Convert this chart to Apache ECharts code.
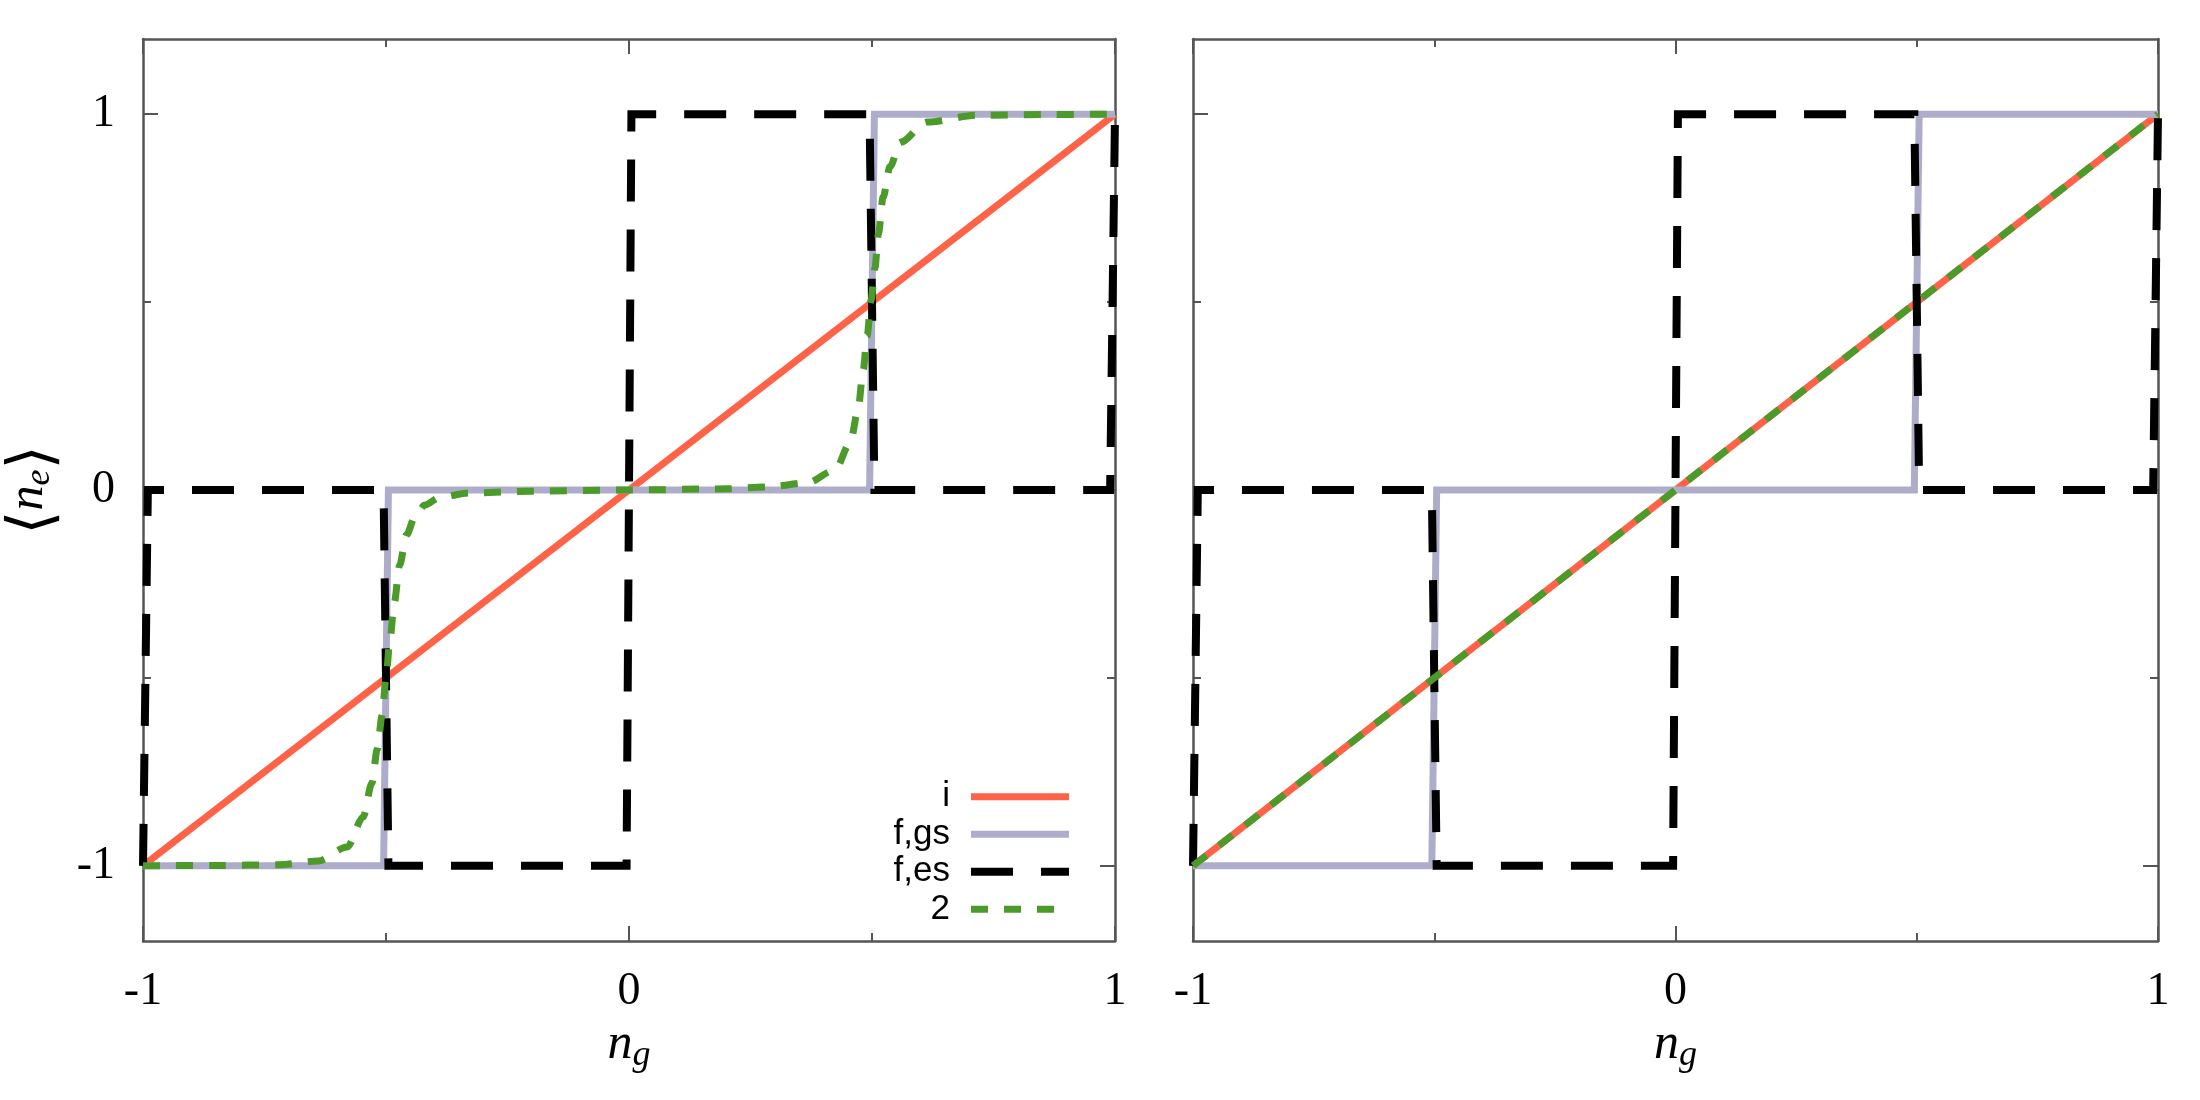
<!DOCTYPE html>
<html><head><meta charset="utf-8">
<script src="https://cdn.jsdelivr.net/npm/echarts@6/dist/echarts.min.js"></script>
<style>html,body{margin:0;padding:0;background:#fff}#c{width:2200px;height:1100px}</style>
</head><body><div id="c"></div>
<script>
// ---------- data ----------
const xTickValues = [-1, 0, 1];
const yTickLabels = [-1, 0, 1];
const yMinorTicks = [-0.5, 0.5];
const seriesNames = ['i', 'f,gs', 'f,es', '2'];

// left panel
const ngI = [-1, 1];
const neI = [-1, 1];
const ngGs = [-1, -0.505, -0.495, 0.495, 0.505, 1];
const neGs = [-1, -1, 0, 0, 1, 1];
const ngEs = [-1, -0.99, -0.505, -0.495, -0.005, 0.005, 0.495, 0.505, 0.99, 1];
const neEs = [-1, 0, 0, -1, -1, 1, 1, 0, 0, 1];
const ngTwoA = [-1, -0.85, -0.72, -0.64, -0.58, -0.547, -0.529, -0.518, -0.508, -0.5, -0.492, -0.483, -0.472, -0.458, -0.44, -0.42, -0.39, -0.33, -0.2, 0, 0.2, 0.284, 0.366, 0.424, 0.455, 0.471, 0.482, 0.49, 0.498, 0.506, 0.513, 0.523, 0.537, 0.558, 0.613, 0.716, 0.85, 1];
const neTwoA = [-1, -0.999, -0.997, -0.987, -0.95, -0.87, -0.78, -0.69, -0.6, -0.5, -0.4, -0.3, -0.2, -0.12, -0.07, -0.04, -0.02, -0.008, -0.003, 0, 0.003, 0.008, 0.019, 0.053, 0.125, 0.21, 0.32, 0.41, 0.505, 0.59, 0.68, 0.78, 0.86, 0.925, 0.979, 0.997, 0.999, 1];
// right panel
const ngTwoB = [-1, 1];
const neTwoB = [-1, 1];

// ---------- styling ----------
const AX = '#555555';
const SERIF = "'Liberation Serif','DejaVu Serif',serif";
const BRACKET = "'DejaVu Serif','DejaVu Sans',serif";
const SANS = "'Liberation Sans',Arial,sans-serif";
const styles = {
  'i':    {color: '#FF6347', width: 7, type: 'solid'},
  'f,gs': {color: '#ADADCB', width: 7, type: 'solid'},
  'f,es': {color: '#000000', width: 8, type: [42, 28]},
  '2':    {color: '#4C9A2A', width: 7, type: [17, 16]}
};
const pairs = (xs, ys) => xs.map((x, k) => [x, ys[k]]);

const grids = [
  {left: 143, top: 39, width: 972, height: 902},
  {left: 1193, top: 39, width: 965, height: 902}
];

const xAxes = [];
const yAxes = [];
grids.forEach((g, gi) => {
  ['bottom', 'top'].forEach(pos => {
    xAxes.push({
      type: 'value', gridIndex: gi, position: pos, min: -1, max: 1, interval: 1,
      axisLine: {show: true, onZero: false, lineStyle: {color: AX, width: 2.5}},
      axisTick: {show: true, inside: true, length: 15, lineStyle: {color: AX, width: 2}},
      minorTick: {show: true, splitNumber: 2, length: 8, lineStyle: {color: AX, width: 2}},
      splitLine: {show: false}, minorSplitLine: {show: false},
      axisLabel: {show: pos === 'bottom', customValues: xTickValues, margin: 28, fontFamily: SERIF, fontSize: 46, color: '#000'},
      name: pos === 'bottom' ? '{n|n}{g|g}' : '',
      nameLocation: 'middle', nameGap: 69,
      nameTextStyle: {rich: {
        n: {fontFamily: SERIF, fontStyle: 'italic', fontSize: 50, lineHeight: 50, verticalAlign: 'top', color: '#000'},
        g: {fontFamily: SERIF, fontStyle: 'italic', fontSize: 36, lineHeight: 36, padding: [18, 0, 0, 0], verticalAlign: 'top', color: '#000'}
      }}
    });
  });
  ['left', 'right'].forEach(pos => {
    const labelled = gi === 0 && pos === 'left';
    yAxes.push({
      type: 'value', gridIndex: gi, position: pos, min: -1.2, max: 1.2,
      axisLine: {show: true, onZero: false, lineStyle: {color: AX, width: 2.5}},
      axisTick: {show: true, inside: true, length: 15, customValues: yTickLabels, lineStyle: {color: AX, width: 2}},
      splitLine: {show: false},
      axisLabel: {show: labelled, customValues: yTickLabels, margin: 28, fontFamily: SERIF, fontSize: 46, color: '#000'},
      name: labelled ? '{b|\u27E8}{n|n}{e|e}{b|\u27E9}' : '',
      nameLocation: 'middle', nameGap: 89, nameRotate: 90,
      nameTextStyle: {rich: {
        b: {fontFamily: BRACKET, fontSize: 62, lineHeight: 50, verticalAlign: 'top', color: '#000'},
        n: {fontFamily: SERIF, fontStyle: 'italic', fontSize: 50, lineHeight: 50, verticalAlign: 'top', color: '#000'},
        e: {fontFamily: SERIF, fontStyle: 'italic', fontSize: 36, lineHeight: 36, padding: [18, 0, 0, 0], verticalAlign: 'top', color: '#000'}
      }}
    });
    yAxes.push({
      type: 'value', gridIndex: gi, position: pos, min: -1.2, max: 1.2,
      axisLine: {show: false, onZero: false},
      axisTick: {show: true, inside: true, length: 8, customValues: yMinorTicks, lineStyle: {color: AX, width: 2}},
      splitLine: {show: false},
      axisLabel: {show: false}
    });
  });
});

const panelData = [
  {'i': pairs(ngI, neI), 'f,gs': pairs(ngGs, neGs), 'f,es': pairs(ngEs, neEs), '2': pairs(ngTwoA, neTwoA)},
  {'i': pairs(ngI, neI), 'f,gs': pairs(ngGs, neGs), 'f,es': pairs(ngEs, neEs), '2': pairs(ngTwoB, neTwoB)}
];

const series = [];
panelData.forEach((pd, gi) => {
  seriesNames.forEach(name => {
    const st = styles[name];
    series.push({
      type: 'line', name: name, xAxisIndex: gi * 2, yAxisIndex: gi * 4,
      data: pd[name], showSymbol: false, symbol: 'none', clip: false,
      smooth: (name === '2' && gi === 0) ? 0.3 : false,
      smoothMonotone: 'x',
      lineStyle: {color: st.color, width: st.width, type: st.type, cap: 'butt', join: 'miter'},
      itemStyle: {color: st.color},
      emphasis: {disabled: true}, silent: true
    });
  });
});

const chart = echarts.init(document.getElementById('c'), null, {renderer: 'canvas'});
chart.setOption({
  animation: false,
  backgroundColor: '#ffffff',
  grid: grids,
  xAxis: xAxes,
  yAxis: yAxes,
  legend: {
    orient: 'vertical', align: 'right', right: 1127, top: 778, padding: 0, itemGap: 0,
    itemWidth: 98, itemHeight: 10, selectedMode: false,
    itemStyle: {opacity: 0},
    textStyle: {fontFamily: SANS, fontSize: 35, color: '#000', lineHeight: 37.5, padding: [0, 16, 0, 0]},
    data: seriesNames.map(n => ({name: n, lineStyle: {width: styles[n].width, type: styles[n].type, color: styles[n].color, opacity: 1}}))
  },
  series: series
});
</script></body></html>
